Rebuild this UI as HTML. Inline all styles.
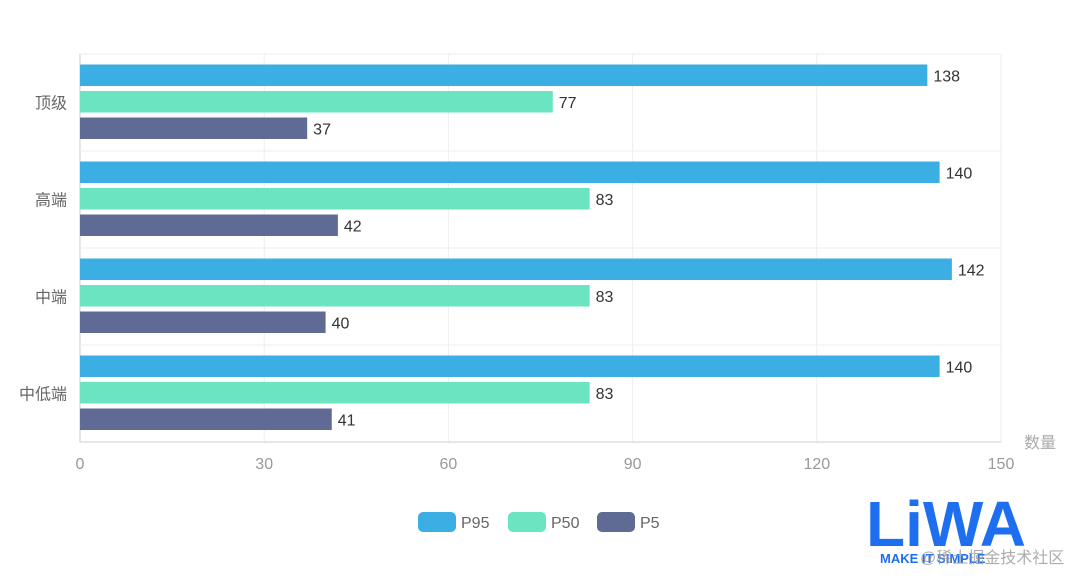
<!DOCTYPE html>
<html><head><meta charset="utf-8"><style>
body{margin:0;background:#fff;}
svg text{font-family:"Liberation Sans","Noto Sans CJK SC",sans-serif;}
</style></head><body>
<svg id="c" width="1080" height="575">
<g id="grid"></g><g id="bars"></g><g id="labels"></g>
<text x="1040" y="448" font-size="16" fill="#aaa" text-anchor="middle">数量</text>
<g>
<g><rect x="418" y="512" width="38" height="20" rx="5" fill="#3BAEE3"/><text x="461" y="528" font-size="16" fill="#666">P95</text></g>
<g><rect x="508" y="512" width="38" height="20" rx="5" fill="#6AE4C1"/><text x="551" y="528" font-size="16" fill="#666">P50</text></g>
<g><rect x="597" y="512" width="38" height="20" rx="5" fill="#5F6A95"/><text x="640" y="528" font-size="16" fill="#666">P5</text></g>
</g>
<g>
<text x="866" y="546" font-size="64" font-weight="bold" fill="#1E6FF0" style="font-family:'Liberation Sans',sans-serif">LiWA</text>
<text x="880" y="563" font-size="13" font-weight="bold" fill="#1E6FF0">MAKE IT SIMPLE</text>
<text x="920" y="563" font-size="16" fill="#999" opacity="0.8">@稀土掘金技术社区</text>
</g>
</svg>
<script>
const categories=["顶级","高端","中端","中低端"];
const p95=[138,140,142,140];
const p50=[77,83,83,83];
const p5=[37,42,40,41];
const xTicks=[0,30,60,90,120,150];
const seriesNames=["p95","p50","p5"];
const colors=["#3BAEE3","#6AE4C1","#5F6A95"];
const L=80,R=1001,T=54,B=442;
const x=v=>L+(v/150)*(R-L);
const band=(B-T)/categories.length;
const ns="http://www.w3.org/2000/svg";
function mk(tag,attrs,parent){const e=document.createElementNS(ns,tag);for(const k in attrs)e.setAttribute(k,attrs[k]);document.getElementById(parent).appendChild(e);return e;}
xTicks.forEach(t=>{
  const g=mk("line",{x1:x(t),x2:x(t),y1:T,y2:B,stroke:t===0?"#ccc":"#eee"},"grid");
  
  
  const tx=mk("text",{x:x(t),y:469,"font-size":16,fill:"#999","text-anchor":"middle"},"labels");
  tx.textContent=t;
  
  
});
mk("line",{x1:L,x2:R,y1:T,y2:T,stroke:"#eee"},"grid");
mk("line",{x1:L,x2:R,y1:B,y2:B,stroke:"#ccc"},"grid");
categories.forEach((c,i)=>{
  const y0=T+i*band;
  if(i>0){const s=mk("line",{x1:L,x2:R,y1:y0,y2:y0,stroke:"#eee"},"grid");
    
    }
  const lb=mk("text",{x:67,y:y0+band/2+6,"font-size":16,fill:"#666","text-anchor":"end"},"labels");
  lb.textContent=c;
  
  
  [p95,p50,p5].forEach((arr,j)=>{
    const by=y0+10.5+j*26.5, v=arr[i];
    const r=mk("rect",{x:L,y:by,width:x(v)-L,height:21.5,fill:colors[j]},"bars");
    
    
    const t=mk("text",{x:x(v)+6,y:by+17,"font-size":16,fill:"#333"},"labels");
    t.textContent=v;
    
    
  });
});
</script>
</body></html>
